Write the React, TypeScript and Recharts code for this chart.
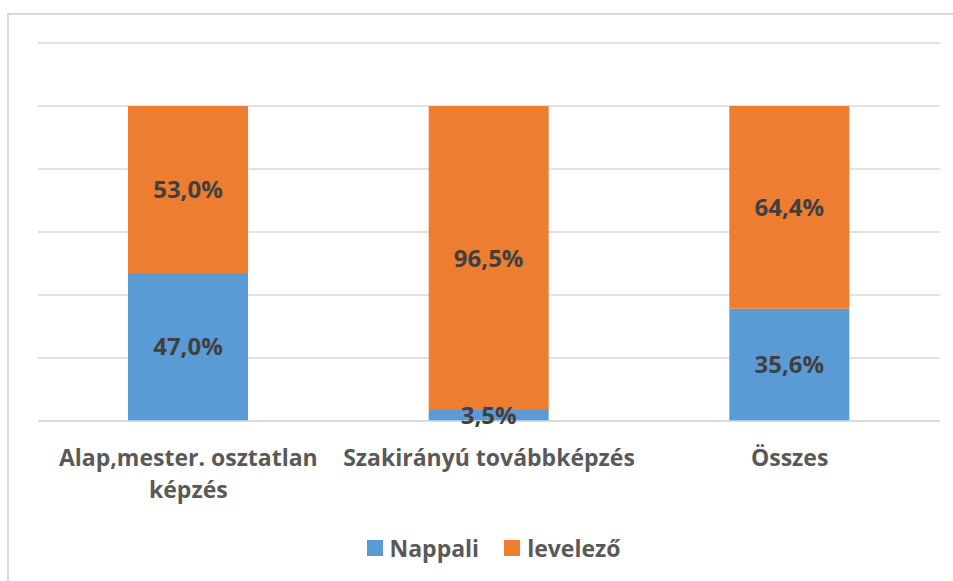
import React from "react";
import { BarChart, Bar, XAxis, YAxis, CartesianGrid, LabelList, Legend } from "recharts";

const categories = ["Alap,mester. osztatlan képzés", "Szakirányú továbbképzés", "Összes"];
const nappali = [47.0, 3.5, 35.6];
const levelezo = [53.0, 96.5, 64.4];
const yTicks = [0, 20, 40, 60, 80, 100, 120];
const seriesNames = ["Nappali", "levelező"];
const seriesColors = ["#5B9BD5", "#ED7D31"];

const data = categories.map((c, i) => ({ name: c, nappali: nappali[i], levelezo: levelezo[i] }));

const FONT = "'Open Sans', sans-serif";

const fmt = (v: any) => `${Number(v).toFixed(1).replace(".", ",")}%`;

function wrap(text: string, maxChars: number): string[] {
  const words = text.split(" ");
  const lines: string[] = [];
  let cur = "";
  for (const w of words) {
    const next = cur ? cur + " " + w : w;
    if (next.length > maxChars && cur) {
      lines.push(cur);
      cur = w;
    } else cur = next;
  }
  if (cur) lines.push(cur);
  return lines;
}

const Tick = (props: any) => {
  const { x, y, payload } = props;
  const lines = wrap(String(payload.value), 23);
  return (
    <text x={x} y={y} textAnchor="middle" fill="#595959" fontFamily={FONT} fontWeight="bold" fontSize={23}>
      {lines.map((l, i) => (
        <tspan key={i} x={x} dy={i === 0 ? 37 : 32}>
          {l}
        </tspan>
      ))}
    </text>
  );
};

const LegendContent = () => (
  <div style={{ display: "flex", justifyContent: "center", alignItems: "center", fontFamily: FONT, fontWeight: "bold", fontSize: 23, color: "#595959", lineHeight: "30px", paddingLeft: 26 }}>
    {seriesNames.map((n, i) => (
      <div key={n} style={{ display: "flex", alignItems: "center", marginRight: i === 0 ? 25 : 0 }}>
        <span style={{ display: "inline-block", width: 16, height: 16, background: seriesColors[i], marginRight: 7 }} />
        <span>{n}</span>
      </div>
    ))}
  </div>
);

export default function App() {
  return (
    <div style={{ position: "fixed", left: 0, top: 0, width: 953, height: 581, overflow: "hidden", background: "#fff" }}>
      <div style={{ position: "absolute", left: 7, top: 13, width: 1000, height: 1000, borderTop: "2px solid #d9d9d9", borderLeft: "2px solid #d9d9d9", boxSizing: "border-box" }} />
      <div style={{ position: "absolute", left: 8, top: 8 }}>
        <BarChart width={945} height={573} data={data} margin={{ top: 35, right: 13, bottom: 130, left: 30 }} barSize={120}>
          <CartesianGrid horizontal={true} vertical={false} stroke="#d9d9d9" strokeWidth={1.5} />
          <YAxis hide domain={[0, 120]} ticks={yTicks} />
          <XAxis dataKey="name" tick={<Tick />} tickLine={false} axisLine={{ stroke: "#d9d9d9", strokeWidth: 1.5 }} interval={0} />
          <Legend layout="horizontal" verticalAlign="middle" align="center" wrapperStyle={{ top: 525, left: 0, width: 945 }} content={<LegendContent />} />
          <Bar dataKey="nappali" stackId="a" fill={seriesColors[0]} name={seriesNames[0]} isAnimationActive={false}>
            <LabelList dataKey="nappali" position="center" formatter={fmt} fill="#404040" fontFamily={FONT} fontWeight="bold" fontSize={24} />
          </Bar>
          <Bar dataKey="levelezo" stackId="a" fill={seriesColors[1]} name={seriesNames[1]} isAnimationActive={false}>
            <LabelList dataKey="levelezo" position="center" formatter={fmt} fill="#404040" fontFamily={FONT} fontWeight="bold" fontSize={24} />
          </Bar>
        </BarChart>
      </div>
    </div>
  );
}
